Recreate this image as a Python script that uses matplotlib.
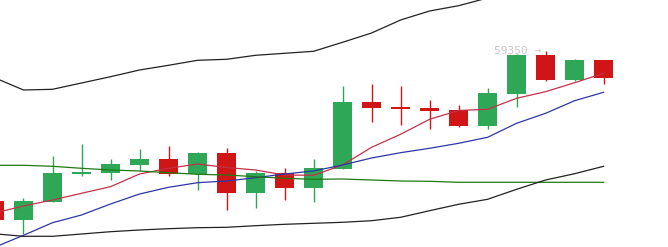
import numpy as np
import matplotlib
matplotlib.use('Agg')
import matplotlib.pyplot as plt

# candle data (open, close, high, low)
opens = [56344, 55964, 56330, 56890, 56910, 57070, 57184, 56878, 57304, 56504, 56904,
         56604, 56990, 58324, 58230, 58204, 58164, 57844, 58484, 59264, 58764, 59164]
closes = [55964, 56344, 56904, 56930, 57084, 57184, 56884, 57304, 56510, 56904, 56604,
          57004, 58324, 58210, 58184, 58150, 57844, 58504, 59264, 58764, 59164, 58804]
highs = [56404, 56404, 57250, 57484, 57184, 57390, 57444, 57330, 57404, 56950, 57004,
         57178, 58644, 58678, 58638, 58364, 58264, 58610, 59284, 59350, 59190, 59164]
lows = [55904, 55684, 56330, 56850, 56764, 56950, 56850, 56564, 56164, 56210, 56358,
        56318, 56990, 57924, 57864, 57790, 57818, 57790, 58230, 58744, 58744, 58678]

# moving averages and bands
ma5 = [56104, 56244, 56364, 56498, 56630, 56884, 56998, 57084, 57014, 56964, 56864,
       56858, 57064, 57418, 57678, 57978, 58154, 58178, 58398, 58530, 58710, 58898]
ma10 = [55418, 55658, 55910, 56064, 56284, 56484, 56618, 56710, 56744, 56810, 56884,
        56944, 57064, 57204, 57310, 57398, 57498, 57618, 57898, 58098, 58350, 58518]
ma20 = [57058, 57058, 57038, 56998, 56964, 56944, 56910, 56878, 56864, 56830, 56798,
        56778, 56784, 56764, 56744, 56738, 56718, 56718, 56718, 56718, 56718, 56718]
upper = [58810, 58564, 58578, 58704, 58830, 58964, 59058, 59158, 59178, 59258, 59298,
         59338, 59518, 59704, 59964, 60144, 60250, 60404, 60524, 60624, 60704, 60764]
lower = [55688, 55638, 55638, 55684, 55730, 55764, 55790, 55810, 55818, 55850, 55878,
         55898, 55918, 55950, 56018, 56150, 56278, 56378, 56578, 56764, 56890, 57038]

max_label = '59350 →'

up_col = '#2ea857'
down_col = '#cf1515'

fig = plt.figure(figsize=(6.68, 2.47), dpi=100)
ax = fig.add_axes([0, 0, 1, 1])
ax.axis('off')

x = np.arange(len(opens))
w = 0.655
for i in x:
    o, c, h, l = opens[i], closes[i], highs[i], lows[i]
    col = up_col if c >= o else down_col
    ax.vlines(i, l, h, color=col, lw=1.0, zorder=2)
    bottom = min(o, c)
    height = max(abs(c - o), 40)
    ax.bar(i, height, w, bottom=bottom, color=col, zorder=3)

ax.plot(x, ma5, color='#c33148', lw=0.9, zorder=4)
ax.plot(x, ma10, color='#2b37a6', lw=0.9, zorder=4)
ax.plot(x, ma20, color='#1f7a12', lw=0.9, zorder=4)
ax.plot(x, upper, color='#222222', lw=0.9, zorder=4)
ax.plot(x, lower, color='#222222', lw=0.9, zorder=4)

imax = int(np.argmax(highs))
ax.annotate(max_label, (imax, highs[imax]), xytext=(-3, 0), textcoords='offset points',
            ha='right', va='center', fontsize=8, color='#c8c8c8',
            family='DejaVu Sans Mono')

ax.set_xlim(0.19, 23.22)
ax.set_ylim(55424, 60364)

fig.savefig('out.png', dpi=100)
